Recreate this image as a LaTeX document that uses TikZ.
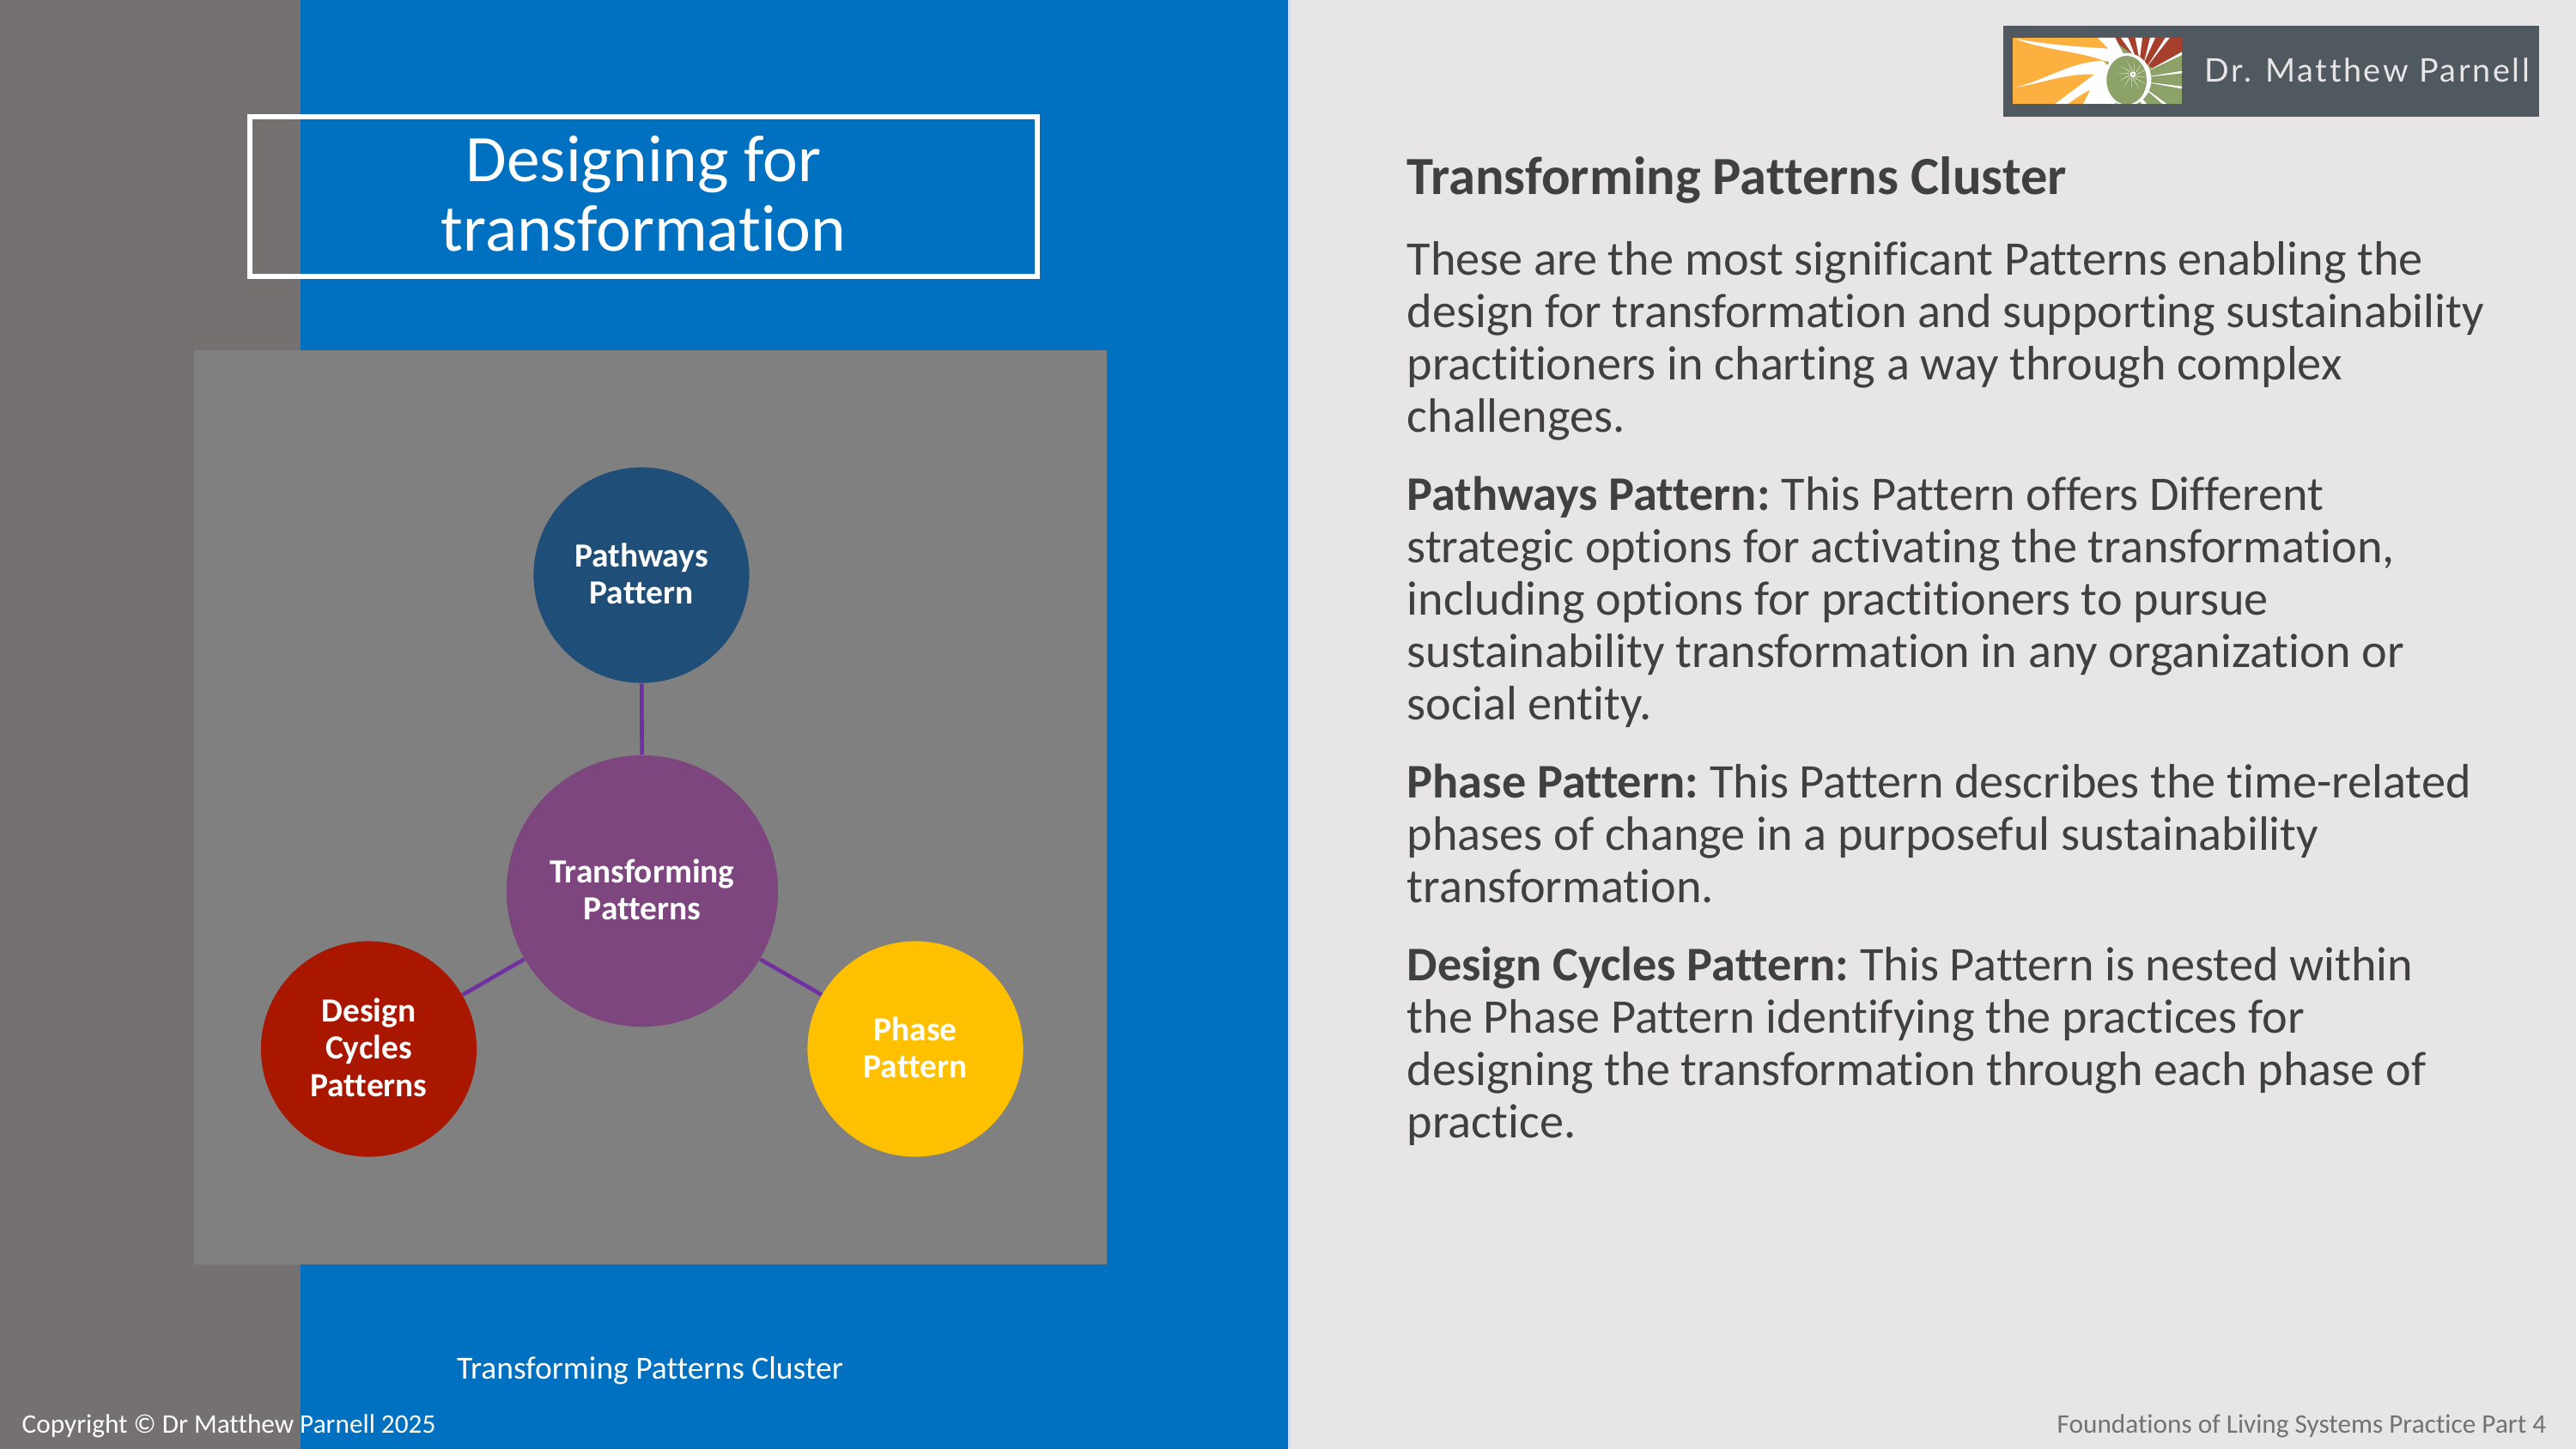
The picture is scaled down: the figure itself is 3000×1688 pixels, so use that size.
\documentclass[tikz,border=0pt]{standalone}
\usepackage{fontspec}
\setmainfont{Carlito}[Ligatures=NoCommon]
\newfontfamily\logofont[LetterSpace=6.8,Ligatures=NoCommon]{Lato}
\usepackage{xcolor}
\usetikzlibrary{positioning}
\definecolor{slidegray}{RGB}{118,113,113}
\definecolor{slideblue}{RGB}{0,112,192}
\definecolor{panelgray}{RGB}{231,229,230}
\definecolor{boxgray}{RGB}{128,128,128}
\definecolor{bodytext}{RGB}{64,64,64}
\definecolor{pathblue}{RGB}{31,78,121}
\definecolor{corepurple}{RGB}{126,70,126}
\definecolor{cyclered}{RGB}{170,23,0}
\definecolor{phaseyellow}{RGB}{255,192,0}
\definecolor{linkpurple}{RGB}{112,48,160}
\definecolor{badgegray}{RGB}{80,88,96}
\definecolor{logoorange}{RGB}{251,176,64}
\definecolor{logogreen}{RGB}{141,162,104}
\definecolor{logored}{RGB}{166,64,44}
\newcommand{\leadin}[1]{\textbf{#1}\kern-1pt\relax}
\tikzset{
  patterncircle/.style={circle,inner sep=0pt,text=white,align=center,
    font=\fontsize{11.2}{12.4}\selectfont\bfseries,
    execute at end node={\rule[-1.1pt]{0pt}{0pt}}},
  linkline/.style={draw=linkpurple,line width=1.3pt},
  smalltext/.style={inner sep=0pt,text=white},
}
\begin{document}
\begin{tikzpicture}[x=0.01cm,y=-0.01cm]
  \useasboundingbox (0,0) rectangle (3000,1688);
  \fill[panelgray] (0,0) rectangle (3000,1688);
  \fill[slideblue] (350,0) rectangle (1500,1688);
  \fill[slidegray] (0,0) rectangle (350,1688);
  \fill[slideblue!20!white] (1500,0) rectangle (1503,1688);
  \fill[boxgray] (226,408) rectangle (1289,1473);

  \node[draw=white,line width=1.7pt,minimum width=9.17cm,minimum height=1.86cm,inner sep=0pt,
    text=white,align=center,font=\fontsize{22}{23}\selectfont,
    execute at end node={\rule[-2.3pt]{0pt}{0pt}}] (titlebox) at (749.5,229)
    {Designing for\\transformation};

  \node[patterncircle,fill=corepurple,minimum size=3.16cm] (core) at (748,1038) {Transforming\\Patterns};
  \node[patterncircle,fill=pathblue,minimum size=2.51cm] (pathways) at (747,670) {Pathways\\Pattern};
  \node[patterncircle,fill=cyclered,minimum size=2.51cm] (cycles) at (429.5,1222) {Design\\Cycles\\Patterns};
  \node[patterncircle,fill=phaseyellow,minimum size=2.51cm] (phase) at (1066,1222) {Phase\\Pattern};
  \draw[linkline] (core) -- (pathways);
  \draw[linkline] (core) -- (cycles);
  \draw[linkline] (core) -- (phase);

  \node[smalltext,anchor=base,font=\fontsize{10.67}{12}\selectfont] (caption) at (757,1606) {Transforming Patterns Cluster};
  \node[smalltext,anchor=base west,font=\fontsize{8.89}{11}\selectfont] (copyright) at (25,1669) {Copyright © Dr Matthew Parnell 2025};
  \node[smalltext,anchor=base east,text=slidegray,font=\fontsize{8.89}{11}\selectfont] (footer) at (2966,1669) {Foundations of Living Systems Practice Part 4};

  % right panel
  \node[inner sep=0pt,anchor=base west,text=bodytext,font=\fontsize{17.8}{20}\selectfont\bfseries] (heading) at (1638,226)
    {Transforming Patterns Cluster};
  \node[inner sep=0pt,anchor=north west,text=bodytext,align=left,font=\fontsize{16}{17.3}\selectfont] (bodycopy) at (1638,281)
    {These are the most significant Patterns enabling the\\
     design for transformation and supporting sustainability\\
     practitioners in charting a way through complex\\
     challenges.\\[8.7pt]
     \leadin{Pathways Pattern:} This Pattern offers Different\\
     strategic options for activating the transformation,\\
     including options for practitioners to pursue\\
     sustainability transformation in any organization or\\
     social entity.\\[8.7pt]
     \leadin{Phase Pattern:} This Pattern describes the time-related\\
     phases of change in a purposeful sustainability\\
     transformation.\\[8.7pt]
     \leadin{Design Cycles Pattern:} This Pattern is nested within\\
     the Phase Pattern identifying the practices for\\
     designing the transformation through each phase of\\
     practice.};

  % logo badge
  \fill[badgegray] (2333,30) rectangle (2957,136);
  \node[inner sep=0pt,anchor=base west,text=panelgray,font=\logofont\fontsize{10.75}{12}\selectfont] (badgename) at (2567,96) {Dr. Matthew Parnell};
  \begin{scope}[shift={(2340,40)},x=0.01cm/3,y=-0.01cm/3]
    \clip (12,12) rectangle (603,243);
    \fill[logoorange] (12,12) rectangle (603,243);
    \fill[logogreen] (340,12) rectangle (603,243);
    \fill[logored] (350,12) -- (603,12) -- (603,60) -- (500,118) -- cycle;
    % swooshes from the left
    \fill[white] (12,187) .. controls (120,165) and (200,100) .. (325,92) -- (360,125) -- (300,140)
      .. controls (200,135) and (120,170) .. (12,187) -- cycle;
    \fill[white] (20,15) .. controls (150,40) and (280,45) .. (345,50) -- (310,12) -- (370,12) -- (420,110) -- (330,92)
      .. controls (250,60) and (120,55) .. (20,15) -- cycle;
    \fill[white] (160,243) -- (300,138) -- (400,120) -- (370,243) -- cycle;
    \fill[logoorange] (205,243) .. controls (230,225) and (260,205) .. (282,195) -- (258,243) -- cycle;
    % spokes
    \foreach \ax/\ay/\bx/\by/\cx/\cy in {
      390/12/415/12/445/90, 440/12/465/12/455/90, 492/12/510/12/470/100,
      545/12/560/12/480/115, 603/62/603/72/480/130, 603/128/603/136/470/150,
      603/182/603/190/465/165, 535/243/550/243/450/170, 480/243/462/243/430/180,
      435/243/420/243/415/170, 395/243/385/243/405/180}{
      \fill[white] (\ax,\ay) -- (\bx,\by) -- (\cx,\cy) -- cycle;
    }
    \fill[white] (412,158) ellipse (84 and 92);
    \fill[logogreen] (410,160) ellipse (70 and 85);
    \foreach \a in {0,30,...,330}{
      \fill[white] (432,142) ++(\a:8) -- ++(\a+80:2) -- ++(\a-30:48) -- cycle;
    }
    \fill[logogreen] (432,140) circle (14);
    \draw[white,line width=0.6pt] (432,140) circle (7);
  \end{scope}
\end{tikzpicture}
\end{document}
